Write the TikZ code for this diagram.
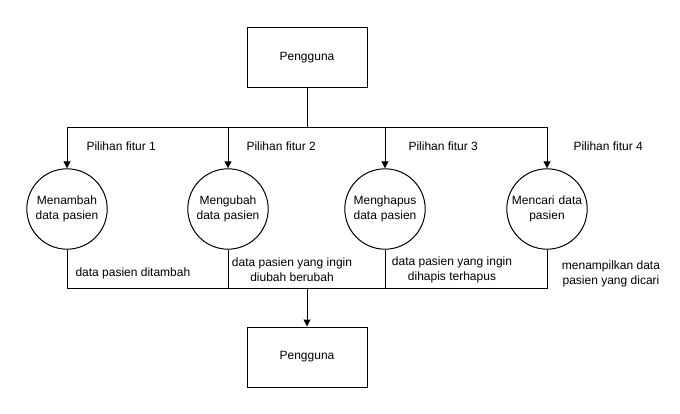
\documentclass[tikz,border=0pt]{standalone}
\usepackage{fontspec}
\setmainfont{Liberation Sans}
\usetikzlibrary{arrows.meta}

\begin{document}
\begin{tikzpicture}[x=1pt,y=-1pt,line width=1pt,
  font=\fontsize{12}{15}\selectfont,
  kotak/.style={draw,minimum width=120pt,minimum height=60pt},
  proses/.style={draw,circle,minimum size=80pt,inner sep=0pt,align=center,text width=76pt},
  panah/.style={-{Triangle[length=7pt,width=7pt]}},
  ket/.style={align=center,inner sep=0pt}]
\path[use as bounding box] (0,0) rectangle (680,414);
\node[kotak] (atas) at (307,58) {Pengguna};
\node[kotak] (bawah) at (307,357) {Pengguna};
\node[proses] (p1) at (67,209) {Menambah\\data pasien};
\node[proses] (p2) at (228,209) {Mengubah\\data pasien};
\node[proses] (p3) at (385,209) {Menghapus\\data pasien};
\node[proses] (p4) at (547,209) {Mencari data\\pasien};
\coordinate (cabang) at (307,128);
\coordinate (gabung) at (307,288);
\draw (atas.south) -- (cabang);
\draw[panah] (cabang) -| (p1.north);
\draw[panah] (cabang) -| (p2.north);
\draw[panah] (cabang) -| (p3.north);
\draw[panah] (cabang) -| (p4.north);
\draw (p1.south) |- (gabung);
\draw (p2.south) |- (gabung);
\draw (p3.south) |- (gabung);
\draw (p4.south) |- (gabung);
\draw[panah] (gabung) -- (bawah.north);
\node[ket,anchor=west] (f1) at (86,146) {Pilihan fitur 1};
\node[ket,anchor=west] (f2) at (246,146) {Pilihan fitur 2};
\node[ket,anchor=west] (f3) at (408,146) {Pilihan fitur 3};
\node[ket,anchor=west] (f4) at (573,146) {Pilihan fitur 4};
\node[ket,anchor=west] (k1) at (75,273) {data pasien ditambah};
\node[ket] (k2) at (292,270) {data pasien yang ingin\\diubah berubah};
\node[ket] (k3) at (452,270) {data pasien yang ingin\\dihapis terhapus};
\node[ket] (k4) at (611,274) {menampilkan data\\pasien yang dicari};
\end{tikzpicture}
\end{document}
